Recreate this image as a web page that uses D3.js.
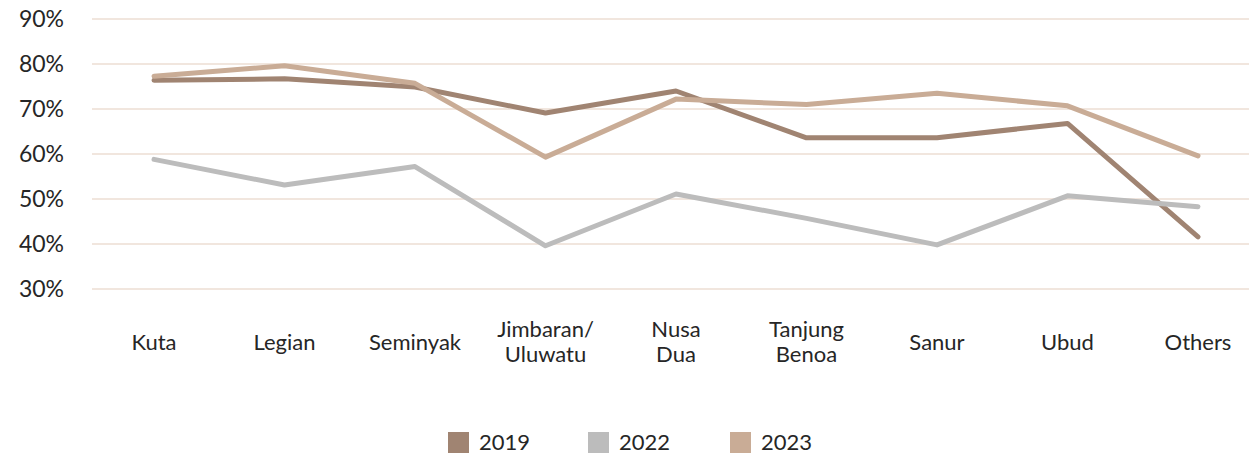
<!DOCTYPE html>
<html>
<head>
<meta charset="utf-8">
<script src="https://cdn.jsdelivr.net/npm/d3@7"></script>
<style>
  body { margin: 0; background: #fff; }
  text { font-family: Lato, "Open Sans", sans-serif; fill: #262626; }
</style>
</head>
<body>
<svg id="chart" width="1249" height="454"></svg>
<script>
// data
var categories = ["Kuta", "Legian", "Seminyak", "Jimbaran/\nUluwatu", "Nusa\nDua", "Tanjung\nBenoa", "Sanur", "Ubud", "Others"];
var years = ["2019", "2022", "2023"];
var values2019 = [76.4, 76.7, 74.9, 69.1, 74.0, 63.6, 63.6, 66.8, 41.6];
var values2022 = [58.8, 53.1, 57.2, 39.6, 51.1, 45.7, 39.8, 50.7, 48.3];
var values2023 = [77.3, 79.6, 75.7, 59.3, 72.2, 71.0, 73.5, 70.7, 59.6];
var yTicks = [30, 40, 50, 60, 70, 80, 90];
var colors = ["#a08472", "#bcbcbc", "#c9ac96"];

var series = [values2019, values2022, values2023];

var svg = d3.select("#chart");

var x = d3.scalePoint()
    .domain(categories)
    .range([154, 1198]);

var y = d3.scaleLinear()
    .domain([30, 90])
    .range([289, 19]);

// gridlines
svg.append("g")
  .selectAll("line")
  .data(yTicks)
  .enter()
  .append("line")
  .attr("x1", 92)
  .attr("x2", 1249)
  .attr("y1", function(d) { return y(d); })
  .attr("y2", function(d) { return y(d); })
  .attr("stroke", "#f1e6de")
  .attr("stroke-width", 2);

// y axis labels
var yAxis = svg.append("g")
  .attr("transform", "translate(64,0)")
  .call(d3.axisLeft(y).tickValues(yTicks).tickSize(0).tickPadding(0)
    .tickFormat(function(d) { return d + "%"; }));
yAxis.select(".domain").remove();
yAxis.selectAll("text")
  .style("font-size", "23px")
  .style("font-family", "Lato, 'Open Sans', sans-serif")
  .attr("fill", "#262626");

// x axis labels (multi-line)
var xLabels = svg.append("g")
  .selectAll("text")
  .data(categories)
  .enter()
  .append("text")
  .attr("text-anchor", "middle")
  .style("font-size", "22px")
  .attr("x", function(d) { return x(d); });

xLabels.each(function(d) {
    var lines = d.split("\n");
    var t = d3.select(this);
    var startY = lines.length > 1 ? 337 : 350;
    lines.forEach(function(l, i) {
        t.append("tspan")
          .attr("x", x(d))
          .attr("y", startY + i * 25)
          .text(l);
    });
});

// lines
var line = d3.line()
    .x(function(d, i) { return x(categories[i]); })
    .y(function(d) { return y(d); });

svg.append("g")
  .selectAll("path")
  .data(series)
  .enter()
  .append("path")
  .attr("d", function(d) { return line(d); })
  .attr("fill", "none")
  .attr("stroke", function(d, i) { return colors[i]; })
  .attr("stroke-width", 5)
  .attr("stroke-linejoin", "round")
  .attr("stroke-linecap", "round");

// legend
var legendX = [448, 588, 730];
var legend = svg.append("g")
  .selectAll("g")
  .data(years)
  .enter()
  .append("g")
  .attr("transform", function(d, i) { return "translate(" + legendX[i] + ",432)"; });

legend.append("rect")
  .attr("width", 21)
  .attr("height", 21)
  .attr("fill", function(d, i) { return colors[i]; });

legend.append("text")
  .attr("x", 31)
  .attr("y", 18)
  .style("font-size", "22px")
  .text(function(d) { return d; });
</script>
</body>
</html>
